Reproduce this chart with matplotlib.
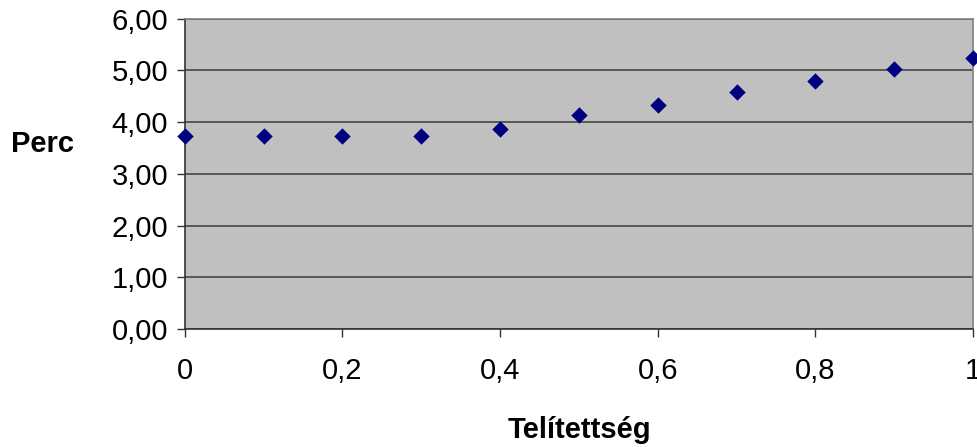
import matplotlib
matplotlib.use("Agg")
import matplotlib.pyplot as plt
from matplotlib.ticker import FuncFormatter, MultipleLocator

# data
telitettseg = [0.0, 0.1, 0.2, 0.3, 0.4, 0.5, 0.6, 0.7, 0.8, 0.9, 1.0]
perc = [3.73, 3.73, 3.73, 3.73, 3.87, 4.13, 4.33, 4.59, 4.80, 5.03, 5.24]

X_LABEL = "Telítettség"
Y_LABEL = "Perc"

PLOT_BG = "#c0c0c0"
GRID_COLOR = "#505050"
MARKER_COLOR = "#000080"

plt.rcParams["font.family"] = ["Liberation Sans", "DejaVu Sans"]

fig = plt.figure(figsize=(9.78, 4.47), dpi=100)
ax = fig.add_axes((0.189, 0.264, 0.806, 0.694))
ax.set_facecolor(PLOT_BG)

ax.scatter(telitettseg, perc, marker="D", s=70, color=MARKER_COLOR, zorder=3, clip_on=False, linewidths=0)

ax.set_xlim(0, 1)
ax.set_ylim(0, 6)
ax.xaxis.set_major_locator(MultipleLocator(0.2))
ax.yaxis.set_major_locator(MultipleLocator(1))
ax.xaxis.set_major_formatter(FuncFormatter(lambda v, _: f"{v:g}".replace(".", ",")))
ax.yaxis.set_major_formatter(FuncFormatter(lambda v, _: f"{v:.2f}".replace(".", ",")))

ax.grid(True, axis="y", color=GRID_COLOR, linewidth=1.3)
ax.set_axisbelow(True)
ax.tick_params(labelsize=21, direction="out", length=6, width=1, color="#333333")
ax.tick_params(axis="x", pad=14)
ax.tick_params(axis="y", pad=6)

for side in ("left", "bottom"):
    ax.spines[side].set_color("#333333")
    ax.spines[side].set_linewidth(1.2)
for side in ("top", "right"):
    ax.spines[side].set_color("#808080")
    ax.spines[side].set_linewidth(1.2)

ax.set_xlabel(X_LABEL, fontsize=21, fontweight="bold")
ax.xaxis.set_label_coords(0.5, -0.28)
ax.set_ylabel(Y_LABEL, fontsize=21, fontweight="bold", rotation=0, va="center", ha="center")
ax.yaxis.set_label_coords(-0.18, 0.595)

fig.savefig("out.png", dpi=100)
